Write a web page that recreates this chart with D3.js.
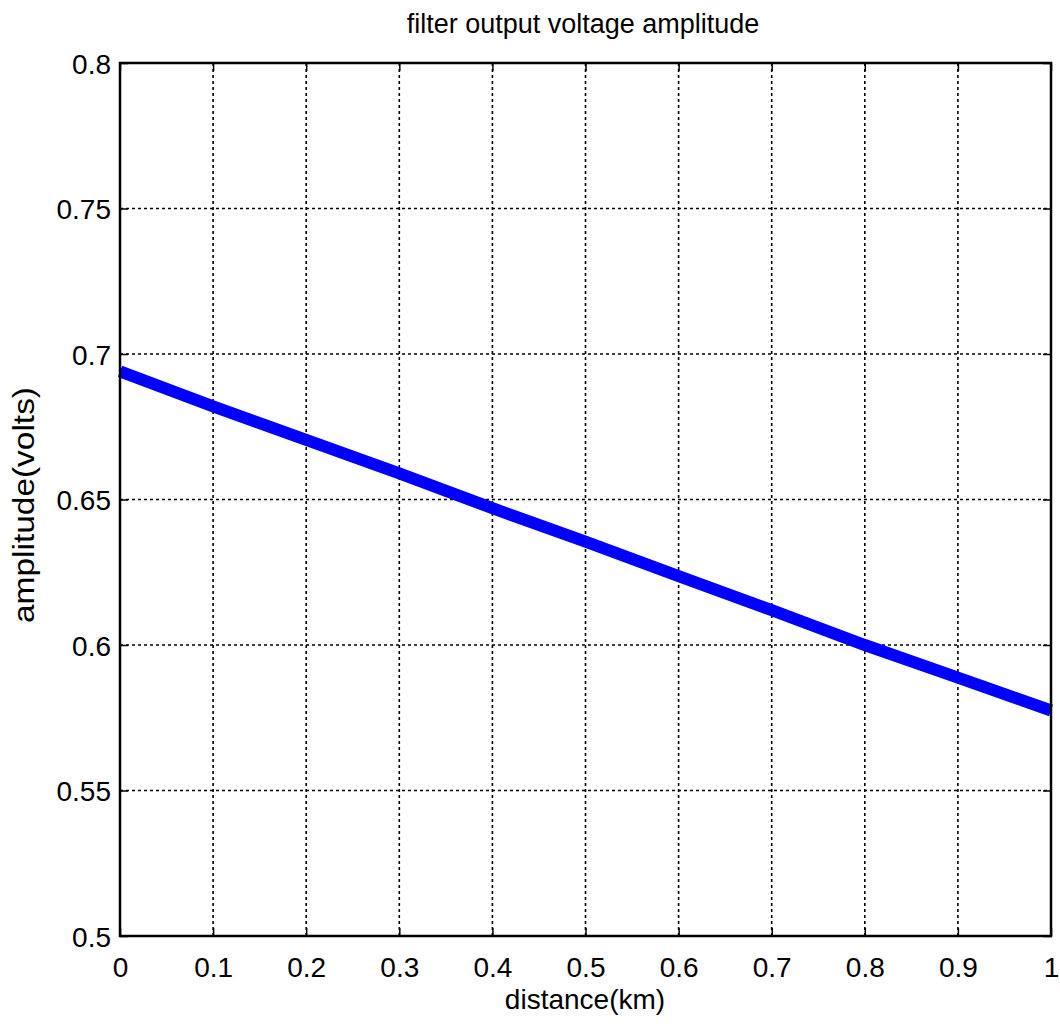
<!DOCTYPE html>
<html>
<head>
<meta charset="utf-8">
<script src="https://cdn.jsdelivr.net/npm/d3@7"></script>
<style>
  body { margin: 0; background: #fff; }
  svg { display: block; font-family: "Liberation Sans", Arial, sans-serif; }
</style>
</head>
<body>
<svg id="chart" width="1060" height="1032"></svg>
<script>
// Data
const distance = [0, 0.1, 0.2, 0.3, 0.4, 0.5, 0.6, 0.7, 0.8, 0.9, 1.0];
const amplitude = [0.694, 0.682, 0.6705, 0.659, 0.647, 0.6355, 0.6237, 0.612, 0.600, 0.5888, 0.5775];
const xTicks = [0, 0.1, 0.2, 0.3, 0.4, 0.5, 0.6, 0.7, 0.8, 0.9, 1];
const xTickLabels = ["0", "0.1", "0.2", "0.3", "0.4", "0.5", "0.6", "0.7", "0.8", "0.9", "1"];
const yTicks = [0.5, 0.55, 0.6, 0.65, 0.7, 0.75, 0.8];
const yTickLabels = ["0.5", "0.55", "0.6", "0.65", "0.7", "0.75", "0.8"];
const titleText = "filter output voltage amplitude";
const xLabel = "distance(km)";
const yLabel = "amplitude(volts)";

const svg = d3.select("#chart");
const pLeft = 120, pRight = 1051, pTop = 63, pBottom = 936;
const FONT = "Liberation Sans, Arial, sans-serif";

const x = d3.scaleLinear().domain([0, 1]).range([pLeft, pRight]);
const y = d3.scaleLinear().domain([0.5, 0.8]).range([pBottom, pTop]);

// grid
const grid = svg.append("g");
grid.selectAll("line.gx").data(xTicks.slice(1, -1)).enter().append("line")
  .attr("x1", d => x(d)).attr("x2", d => x(d))
  .attr("y1", pTop).attr("y2", pBottom)
  .attr("stroke", "#000").attr("stroke-width", 1.6).attr("stroke-dasharray", "3,3");
grid.selectAll("line.gy").data(yTicks.slice(1)).enter().append("line")
  .attr("x1", pLeft).attr("x2", pRight)
  .attr("y1", d => y(d)).attr("y2", d => y(d))
  .attr("stroke", "#000").attr("stroke-width", 1.6).attr("stroke-dasharray", "3,3");

// data line
const line = d3.line().x((d, i) => x(distance[i])).y(d => y(d));
svg.append("path")
  .attr("d", line(amplitude))
  .attr("fill", "none")
  .attr("stroke", "#0000ff")
  .attr("stroke-width", 12);

// axes with inward ticks
const xAxisB = d3.axisBottom(x).tickValues(xTicks).tickSize(-8)
  .tickFormat((d, i) => xTickLabels[i]);
const gx = svg.append("g").attr("transform", `translate(0,${pBottom})`).call(xAxisB);
gx.select(".domain").remove();
gx.selectAll(".tick line").attr("stroke", "#000").attr("stroke-width", 1.5);
gx.selectAll(".tick text").attr("font-size", 28).attr("fill", "#000")
  .attr("font-family", FONT).attr("y", 41).attr("dy", 0);

const xAxisT = d3.axisTop(x).tickValues(xTicks).tickSize(-8).tickFormat("");
const gxt = svg.append("g").attr("transform", `translate(0,${pTop})`).call(xAxisT);
gxt.select(".domain").remove();
gxt.selectAll(".tick line").attr("stroke", "#000").attr("stroke-width", 1.5);

const yAxisL = d3.axisLeft(y).tickValues(yTicks).tickSize(-8).tickPadding(9)
  .tickFormat((d, i) => yTickLabels[i]);
const gy = svg.append("g").attr("transform", `translate(${pLeft},0)`).call(yAxisL);
gy.select(".domain").remove();
gy.selectAll(".tick line").attr("stroke", "#000").attr("stroke-width", 1.5);
gy.selectAll(".tick text").attr("font-size", 28).attr("fill", "#000")
  .attr("font-family", FONT).attr("dy", "0.36em");

const yAxisR = d3.axisRight(y).tickValues(yTicks).tickSize(-8).tickFormat("");
const gyr = svg.append("g").attr("transform", `translate(${pRight},0)`).call(yAxisR);
gyr.select(".domain").remove();
gyr.selectAll(".tick line").attr("stroke", "#000").attr("stroke-width", 1.5);

// frame
svg.append("rect")
  .attr("x", pLeft).attr("y", pTop)
  .attr("width", pRight - pLeft).attr("height", pBottom - pTop)
  .attr("fill", "none").attr("stroke", "#000").attr("stroke-width", 2.5);

// title and labels
svg.append("text").attr("x", 583).attr("y", 33)
  .attr("text-anchor", "middle").attr("font-size", 27)
  .text(titleText);
svg.append("text").attr("x", 585).attr("y", 1009)
  .attr("text-anchor", "middle").attr("font-size", 28).text(xLabel);
svg.append("text")
  .attr("transform", `translate(34,505) rotate(-90)`)
  .attr("text-anchor", "middle").attr("font-size", 29)
  .attr("textLength", 236).attr("lengthAdjust", "spacingAndGlyphs").text(yLabel);
</script>
</body>
</html>
